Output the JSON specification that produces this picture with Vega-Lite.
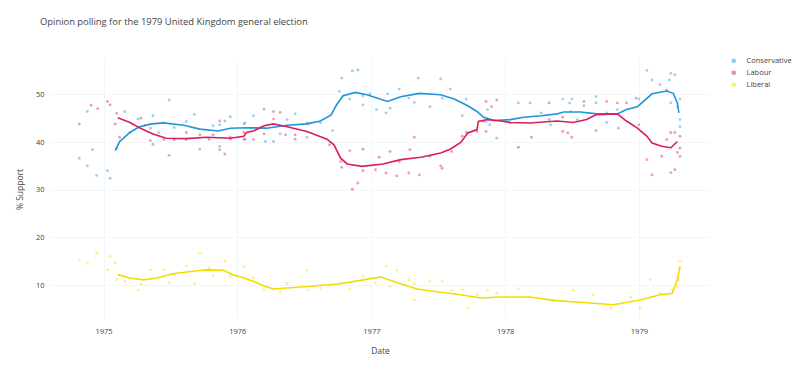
{
  "$schema": "https://vega.github.io/schema/vega-lite/v6.json",
  "width": 660,
  "height": 260,
  "autosize": {"type": "none"},
  "padding": {"left": 50, "top": 59, "right": 90, "bottom": 51},
  "background": "white",
  "title": {"text": "Opinion polling for the 1979 United Kingdom general election", "anchor": "start", "frame": "group", "dx": -10, "offset": 30, "font": "Open Sans", "fontSize": 9.4, "fontWeight": "normal", "color": "#444"},
  "config": {
    "view": {"stroke": null},
    "axis": {"labelFont": "Open Sans", "titleFont": "Open Sans", "labelColor": "#444", "titleColor": "#444", "labelFontSize": 7.5, "titleFontSize": 8.5, "titleFontWeight": "normal", "domain": false, "ticks": false, "gridColor": "#f3f5f8", "gridWidth": 1},
    "legend": {"labelFont": "Open Sans", "labelColor": "#444", "labelFontSize": 7.5}
  },
  "datasets": {
    "polls": [
      {"d": "1974-10-27", "p": "Conservative", "v": 36.6},
      {"d": "1974-11-18", "p": "Conservative", "v": 46.4},
      {"d": "1974-11-18", "p": "Conservative", "v": 35.0},
      {"d": "1974-12-02", "p": "Conservative", "v": 38.4},
      {"d": "1974-12-13", "p": "Conservative", "v": 33.0},
      {"d": "1975-01-12", "p": "Conservative", "v": 34.0},
      {"d": "1975-01-19", "p": "Conservative", "v": 32.4},
      {"d": "1975-02-06", "p": "Conservative", "v": 38.7},
      {"d": "1975-02-28", "p": "Conservative", "v": 46.4},
      {"d": "1975-03-14", "p": "Conservative", "v": 42.0},
      {"d": "1975-04-05", "p": "Conservative", "v": 44.8},
      {"d": "1975-05-09", "p": "Conservative", "v": 42.9},
      {"d": "1975-05-16", "p": "Conservative", "v": 45.5},
      {"d": "1975-05-31", "p": "Conservative", "v": 42.0},
      {"d": "1975-06-14", "p": "Conservative", "v": 44.0},
      {"d": "1975-06-29", "p": "Conservative", "v": 48.8},
      {"d": "1975-07-13", "p": "Conservative", "v": 43.0},
      {"d": "1975-08-15", "p": "Conservative", "v": 44.3},
      {"d": "1975-09-06", "p": "Conservative", "v": 45.8},
      {"d": "1975-09-21", "p": "Conservative", "v": 38.5},
      {"d": "1975-10-27", "p": "Conservative", "v": 43.4},
      {"d": "1975-11-14", "p": "Conservative", "v": 43.6},
      {"d": "1975-11-14", "p": "Conservative", "v": 39.1},
      {"d": "1975-11-28", "p": "Conservative", "v": 44.4},
      {"d": "1975-12-13", "p": "Conservative", "v": 45.3},
      {"d": "1975-12-13", "p": "Conservative", "v": 40.5},
      {"d": "1976-01-19", "p": "Conservative", "v": 43.8},
      {"d": "1976-01-19", "p": "Conservative", "v": 40.5},
      {"d": "1976-01-22", "p": "Conservative", "v": 44.0},
      {"d": "1976-02-14", "p": "Conservative", "v": 45.5},
      {"d": "1976-03-18", "p": "Conservative", "v": 40.1},
      {"d": "1976-04-09", "p": "Conservative", "v": 40.1},
      {"d": "1976-04-27", "p": "Conservative", "v": 41.7},
      {"d": "1976-05-16", "p": "Conservative", "v": 44.7},
      {"d": "1976-06-07", "p": "Conservative", "v": 45.9},
      {"d": "1976-07-09", "p": "Conservative", "v": 44.0},
      {"d": "1976-07-09", "p": "Conservative", "v": 41.0},
      {"d": "1976-08-15", "p": "Conservative", "v": 44.0},
      {"d": "1976-09-17", "p": "Conservative", "v": 42.4},
      {"d": "1976-10-05", "p": "Conservative", "v": 50.6},
      {"d": "1976-10-12", "p": "Conservative", "v": 53.4},
      {"d": "1976-11-03", "p": "Conservative", "v": 49.0},
      {"d": "1976-11-10", "p": "Conservative", "v": 54.9},
      {"d": "1976-11-25", "p": "Conservative", "v": 55.1},
      {"d": "1976-12-09", "p": "Conservative", "v": 49.7},
      {"d": "1976-12-09", "p": "Conservative", "v": 47.8},
      {"d": "1976-12-28", "p": "Conservative", "v": 50.1},
      {"d": "1977-01-15", "p": "Conservative", "v": 46.8},
      {"d": "1977-02-10", "p": "Conservative", "v": 46.1},
      {"d": "1977-02-14", "p": "Conservative", "v": 50.1},
      {"d": "1977-02-21", "p": "Conservative", "v": 47.1},
      {"d": "1977-03-18", "p": "Conservative", "v": 51.1},
      {"d": "1977-04-13", "p": "Conservative", "v": 49.2},
      {"d": "1977-04-28", "p": "Conservative", "v": 48.3},
      {"d": "1977-05-09", "p": "Conservative", "v": 53.4},
      {"d": "1977-06-10", "p": "Conservative", "v": 47.4},
      {"d": "1977-07-09", "p": "Conservative", "v": 53.2},
      {"d": "1977-07-13", "p": "Conservative", "v": 49.2},
      {"d": "1977-08-04", "p": "Conservative", "v": 51.1},
      {"d": "1977-09-06", "p": "Conservative", "v": 45.5},
      {"d": "1977-09-17", "p": "Conservative", "v": 49.0},
      {"d": "1977-11-10", "p": "Conservative", "v": 44.3},
      {"d": "1977-11-14", "p": "Conservative", "v": 46.8},
      {"d": "1977-11-20", "p": "Conservative", "v": 43.6},
      {"d": "1977-12-09", "p": "Conservative", "v": 40.8},
      {"d": "1978-02-06", "p": "Conservative", "v": 48.2},
      {"d": "1978-03-10", "p": "Conservative", "v": 48.2},
      {"d": "1978-04-09", "p": "Conservative", "v": 46.1},
      {"d": "1978-05-05", "p": "Conservative", "v": 43.6},
      {"d": "1978-06-07", "p": "Conservative", "v": 49.0},
      {"d": "1978-06-26", "p": "Conservative", "v": 48.2},
      {"d": "1978-06-29", "p": "Conservative", "v": 46.4},
      {"d": "1978-07-02", "p": "Conservative", "v": 49.0},
      {"d": "1978-07-17", "p": "Conservative", "v": 44.7},
      {"d": "1978-08-04", "p": "Conservative", "v": 47.6},
      {"d": "1978-09-06", "p": "Conservative", "v": 49.5},
      {"d": "1978-09-06", "p": "Conservative", "v": 48.2},
      {"d": "1978-10-05", "p": "Conservative", "v": 46.1},
      {"d": "1978-10-05", "p": "Conservative", "v": 44.1},
      {"d": "1978-11-03", "p": "Conservative", "v": 46.8},
      {"d": "1978-11-06", "p": "Conservative", "v": 42.9},
      {"d": "1979-01-01", "p": "Conservative", "v": 49.0},
      {"d": "1979-01-23", "p": "Conservative", "v": 55.0},
      {"d": "1979-02-06", "p": "Conservative", "v": 53.0},
      {"d": "1979-02-28", "p": "Conservative", "v": 52.0},
      {"d": "1979-03-18", "p": "Conservative", "v": 50.9},
      {"d": "1979-03-25", "p": "Conservative", "v": 53.0},
      {"d": "1979-03-29", "p": "Conservative", "v": 54.4},
      {"d": "1979-03-29", "p": "Conservative", "v": 48.2},
      {"d": "1979-04-09", "p": "Conservative", "v": 54.1},
      {"d": "1979-04-16", "p": "Conservative", "v": 47.4},
      {"d": "1979-04-23", "p": "Conservative", "v": 44.7},
      {"d": "1979-04-23", "p": "Conservative", "v": 43.2},
      {"d": "1979-04-23", "p": "Conservative", "v": 49.0},
      {"d": "1974-10-27", "p": "Labour", "v": 43.8},
      {"d": "1974-11-28", "p": "Labour", "v": 47.7},
      {"d": "1974-12-16", "p": "Labour", "v": 47.0},
      {"d": "1975-01-12", "p": "Labour", "v": 48.5},
      {"d": "1975-01-19", "p": "Labour", "v": 47.8},
      {"d": "1975-02-02", "p": "Labour", "v": 43.8},
      {"d": "1975-02-06", "p": "Labour", "v": 46.0},
      {"d": "1975-02-14", "p": "Labour", "v": 41.0},
      {"d": "1975-04-13", "p": "Labour", "v": 45.0},
      {"d": "1975-04-24", "p": "Labour", "v": 43.5},
      {"d": "1975-05-09", "p": "Labour", "v": 40.3},
      {"d": "1975-05-16", "p": "Labour", "v": 39.5},
      {"d": "1975-06-14", "p": "Labour", "v": 40.5},
      {"d": "1975-06-29", "p": "Labour", "v": 37.2},
      {"d": "1975-07-13", "p": "Labour", "v": 40.5},
      {"d": "1975-08-15", "p": "Labour", "v": 42.0},
      {"d": "1975-08-15", "p": "Labour", "v": 40.5},
      {"d": "1975-09-21", "p": "Labour", "v": 41.5},
      {"d": "1975-10-16", "p": "Labour", "v": 40.5},
      {"d": "1975-10-27", "p": "Labour", "v": 41.5},
      {"d": "1975-11-14", "p": "Labour", "v": 44.4},
      {"d": "1975-11-14", "p": "Labour", "v": 38.4},
      {"d": "1975-11-28", "p": "Labour", "v": 37.5},
      {"d": "1975-12-13", "p": "Labour", "v": 41.0},
      {"d": "1976-01-19", "p": "Labour", "v": 42.0},
      {"d": "1976-01-22", "p": "Labour", "v": 40.6},
      {"d": "1976-02-14", "p": "Labour", "v": 40.5},
      {"d": "1976-03-14", "p": "Labour", "v": 41.7},
      {"d": "1976-03-14", "p": "Labour", "v": 46.9},
      {"d": "1976-04-09", "p": "Labour", "v": 46.4},
      {"d": "1976-04-09", "p": "Labour", "v": 44.8},
      {"d": "1976-04-27", "p": "Labour", "v": 46.2},
      {"d": "1976-05-12", "p": "Labour", "v": 41.5},
      {"d": "1976-06-07", "p": "Labour", "v": 41.5},
      {"d": "1976-06-07", "p": "Labour", "v": 40.6},
      {"d": "1976-07-13", "p": "Labour", "v": 43.8},
      {"d": "1976-09-09", "p": "Labour", "v": 39.4},
      {"d": "1976-10-09", "p": "Labour", "v": 35.9},
      {"d": "1976-10-12", "p": "Labour", "v": 34.7},
      {"d": "1976-11-03", "p": "Labour", "v": 38.2},
      {"d": "1976-11-10", "p": "Labour", "v": 30.1},
      {"d": "1976-11-25", "p": "Labour", "v": 31.4},
      {"d": "1976-12-09", "p": "Labour", "v": 38.5},
      {"d": "1976-12-09", "p": "Labour", "v": 34.0},
      {"d": "1977-01-12", "p": "Labour", "v": 34.2},
      {"d": "1977-01-22", "p": "Labour", "v": 36.8},
      {"d": "1977-02-10", "p": "Labour", "v": 33.5},
      {"d": "1977-02-21", "p": "Labour", "v": 38.0},
      {"d": "1977-03-11", "p": "Labour", "v": 32.9},
      {"d": "1977-03-18", "p": "Labour", "v": 35.9},
      {"d": "1977-04-13", "p": "Labour", "v": 33.5},
      {"d": "1977-04-16", "p": "Labour", "v": 38.4},
      {"d": "1977-04-28", "p": "Labour", "v": 41.0},
      {"d": "1977-05-12", "p": "Labour", "v": 33.1},
      {"d": "1977-06-10", "p": "Labour", "v": 37.0},
      {"d": "1977-07-09", "p": "Labour", "v": 35.0},
      {"d": "1977-07-13", "p": "Labour", "v": 34.5},
      {"d": "1977-08-08", "p": "Labour", "v": 38.0},
      {"d": "1977-09-06", "p": "Labour", "v": 41.2},
      {"d": "1977-09-17", "p": "Labour", "v": 42.0},
      {"d": "1977-10-16", "p": "Labour", "v": 42.2},
      {"d": "1977-11-03", "p": "Labour", "v": 44.3},
      {"d": "1977-11-10", "p": "Labour", "v": 48.5},
      {"d": "1977-11-10", "p": "Labour", "v": 42.2},
      {"d": "1977-11-25", "p": "Labour", "v": 47.4},
      {"d": "1977-12-09", "p": "Labour", "v": 48.8},
      {"d": "1978-01-15", "p": "Labour", "v": 44.0},
      {"d": "1978-02-06", "p": "Labour", "v": 38.9},
      {"d": "1978-03-14", "p": "Labour", "v": 41.0},
      {"d": "1978-05-01", "p": "Labour", "v": 48.2},
      {"d": "1978-05-01", "p": "Labour", "v": 44.7},
      {"d": "1978-06-07", "p": "Labour", "v": 42.2},
      {"d": "1978-06-07", "p": "Labour", "v": 45.2},
      {"d": "1978-06-21", "p": "Labour", "v": 41.9},
      {"d": "1978-07-02", "p": "Labour", "v": 41.0},
      {"d": "1978-08-04", "p": "Labour", "v": 48.5},
      {"d": "1978-09-06", "p": "Labour", "v": 42.4},
      {"d": "1978-10-05", "p": "Labour", "v": 48.5},
      {"d": "1978-11-03", "p": "Labour", "v": 48.2},
      {"d": "1978-11-28", "p": "Labour", "v": 48.2},
      {"d": "1978-12-24", "p": "Labour", "v": 49.2},
      {"d": "1979-01-01", "p": "Labour", "v": 43.6},
      {"d": "1979-01-23", "p": "Labour", "v": 36.3},
      {"d": "1979-02-06", "p": "Labour", "v": 33.1},
      {"d": "1979-03-04", "p": "Labour", "v": 37.0},
      {"d": "1979-03-18", "p": "Labour", "v": 40.5},
      {"d": "1979-03-29", "p": "Labour", "v": 42.0},
      {"d": "1979-03-29", "p": "Labour", "v": 33.6},
      {"d": "1979-04-09", "p": "Labour", "v": 42.0},
      {"d": "1979-04-09", "p": "Labour", "v": 34.2},
      {"d": "1979-04-16", "p": "Labour", "v": 37.8},
      {"d": "1979-04-23", "p": "Labour", "v": 38.7},
      {"d": "1979-04-23", "p": "Labour", "v": 37.0},
      {"d": "1979-04-23", "p": "Labour", "v": 41.2},
      {"d": "1974-10-27", "p": "Liberal", "v": 15.3},
      {"d": "1974-11-18", "p": "Liberal", "v": 14.6},
      {"d": "1974-12-13", "p": "Liberal", "v": 16.7},
      {"d": "1975-01-12", "p": "Liberal", "v": 13.2},
      {"d": "1975-01-19", "p": "Liberal", "v": 16.0},
      {"d": "1975-02-02", "p": "Liberal", "v": 14.7},
      {"d": "1975-02-06", "p": "Liberal", "v": 11.1},
      {"d": "1975-02-28", "p": "Liberal", "v": 10.8},
      {"d": "1975-04-05", "p": "Liberal", "v": 9.0},
      {"d": "1975-04-13", "p": "Liberal", "v": 10.2},
      {"d": "1975-05-09", "p": "Liberal", "v": 13.2},
      {"d": "1975-06-14", "p": "Liberal", "v": 13.2},
      {"d": "1975-06-29", "p": "Liberal", "v": 10.5},
      {"d": "1975-07-13", "p": "Liberal", "v": 12.2},
      {"d": "1975-08-15", "p": "Liberal", "v": 14.0},
      {"d": "1975-09-06", "p": "Liberal", "v": 10.3},
      {"d": "1975-09-21", "p": "Liberal", "v": 16.7},
      {"d": "1975-10-16", "p": "Liberal", "v": 13.6},
      {"d": "1975-10-27", "p": "Liberal", "v": 12.0},
      {"d": "1975-11-28", "p": "Liberal", "v": 15.0},
      {"d": "1975-12-13", "p": "Liberal", "v": 11.9},
      {"d": "1976-01-19", "p": "Liberal", "v": 13.9},
      {"d": "1976-02-14", "p": "Liberal", "v": 11.5},
      {"d": "1976-03-14", "p": "Liberal", "v": 9.0},
      {"d": "1976-04-09", "p": "Liberal", "v": 9.2},
      {"d": "1976-04-27", "p": "Liberal", "v": 8.7},
      {"d": "1976-05-16", "p": "Liberal", "v": 10.4},
      {"d": "1976-07-09", "p": "Liberal", "v": 13.1},
      {"d": "1976-07-13", "p": "Liberal", "v": 9.0},
      {"d": "1976-08-15", "p": "Liberal", "v": 9.4},
      {"d": "1976-09-09", "p": "Liberal", "v": 9.9},
      {"d": "1976-10-09", "p": "Liberal", "v": 10.5},
      {"d": "1976-11-03", "p": "Liberal", "v": 9.2},
      {"d": "1976-12-09", "p": "Liberal", "v": 11.8},
      {"d": "1977-01-12", "p": "Liberal", "v": 10.5},
      {"d": "1977-02-10", "p": "Liberal", "v": 14.0},
      {"d": "1977-02-21", "p": "Liberal", "v": 9.7},
      {"d": "1977-03-11", "p": "Liberal", "v": 13.1},
      {"d": "1977-04-13", "p": "Liberal", "v": 11.1},
      {"d": "1977-04-28", "p": "Liberal", "v": 10.3},
      {"d": "1977-04-28", "p": "Liberal", "v": 6.9},
      {"d": "1977-06-10", "p": "Liberal", "v": 10.8},
      {"d": "1977-07-13", "p": "Liberal", "v": 10.8},
      {"d": "1977-08-08", "p": "Liberal", "v": 8.9},
      {"d": "1977-09-06", "p": "Liberal", "v": 9.0},
      {"d": "1977-09-21", "p": "Liberal", "v": 5.2},
      {"d": "1977-10-16", "p": "Liberal", "v": 8.0},
      {"d": "1977-11-14", "p": "Liberal", "v": 8.9},
      {"d": "1977-12-09", "p": "Liberal", "v": 8.3},
      {"d": "1978-02-06", "p": "Liberal", "v": 9.2},
      {"d": "1978-03-10", "p": "Liberal", "v": 7.5},
      {"d": "1978-05-12", "p": "Liberal", "v": 6.8},
      {"d": "1978-07-06", "p": "Liberal", "v": 8.9},
      {"d": "1978-08-29", "p": "Liberal", "v": 8.0},
      {"d": "1978-10-16", "p": "Liberal", "v": 5.2},
      {"d": "1978-12-09", "p": "Liberal", "v": 7.5},
      {"d": "1979-01-04", "p": "Liberal", "v": 5.2},
      {"d": "1979-02-02", "p": "Liberal", "v": 11.1},
      {"d": "1979-02-28", "p": "Liberal", "v": 8.3},
      {"d": "1979-04-02", "p": "Liberal", "v": 9.0},
      {"d": "1979-04-16", "p": "Liberal", "v": 9.7},
      {"d": "1979-04-20", "p": "Liberal", "v": 11.1},
      {"d": "1979-04-23", "p": "Liberal", "v": 13.6},
      {"d": "1979-04-23", "p": "Liberal", "v": 15.0}
    ],
    "trend": [
      {"d": "1975-02-02", "p": "Conservative", "v": 38.2},
      {"d": "1975-02-14", "p": "Conservative", "v": 40.1},
      {"d": "1975-03-14", "p": "Conservative", "v": 42.0},
      {"d": "1975-04-09", "p": "Conservative", "v": 43.2},
      {"d": "1975-05-12", "p": "Conservative", "v": 43.8},
      {"d": "1975-06-14", "p": "Conservative", "v": 44.0},
      {"d": "1975-08-08", "p": "Conservative", "v": 43.5},
      {"d": "1975-09-21", "p": "Conservative", "v": 42.7},
      {"d": "1975-11-10", "p": "Conservative", "v": 42.3},
      {"d": "1975-12-13", "p": "Conservative", "v": 42.9},
      {"d": "1976-01-26", "p": "Conservative", "v": 43.0},
      {"d": "1976-03-21", "p": "Conservative", "v": 42.9},
      {"d": "1976-05-16", "p": "Conservative", "v": 43.5},
      {"d": "1976-07-09", "p": "Conservative", "v": 43.8},
      {"d": "1976-08-15", "p": "Conservative", "v": 44.4},
      {"d": "1976-09-13", "p": "Conservative", "v": 45.7},
      {"d": "1976-09-28", "p": "Conservative", "v": 47.8},
      {"d": "1976-10-16", "p": "Conservative", "v": 49.7},
      {"d": "1976-11-18", "p": "Conservative", "v": 50.4},
      {"d": "1976-12-20", "p": "Conservative", "v": 49.9},
      {"d": "1977-02-14", "p": "Conservative", "v": 48.5},
      {"d": "1977-03-22", "p": "Conservative", "v": 49.5},
      {"d": "1977-05-12", "p": "Conservative", "v": 50.2},
      {"d": "1977-07-09", "p": "Conservative", "v": 49.9},
      {"d": "1977-08-15", "p": "Conservative", "v": 49.0},
      {"d": "1977-09-21", "p": "Conservative", "v": 47.6},
      {"d": "1977-10-16", "p": "Conservative", "v": 46.4},
      {"d": "1977-11-03", "p": "Conservative", "v": 45.2},
      {"d": "1977-12-02", "p": "Conservative", "v": 44.5},
      {"d": "1978-01-15", "p": "Conservative", "v": 44.7},
      {"d": "1978-02-21", "p": "Conservative", "v": 45.2},
      {"d": "1978-04-09", "p": "Conservative", "v": 45.5},
      {"d": "1978-05-23", "p": "Conservative", "v": 45.9},
      {"d": "1978-06-10", "p": "Conservative", "v": 46.3},
      {"d": "1978-07-24", "p": "Conservative", "v": 46.3},
      {"d": "1978-09-09", "p": "Conservative", "v": 45.9},
      {"d": "1978-11-03", "p": "Conservative", "v": 45.9},
      {"d": "1978-11-28", "p": "Conservative", "v": 46.8},
      {"d": "1978-12-28", "p": "Conservative", "v": 47.4},
      {"d": "1979-02-06", "p": "Conservative", "v": 50.1},
      {"d": "1979-03-18", "p": "Conservative", "v": 50.7},
      {"d": "1979-04-05", "p": "Conservative", "v": 50.2},
      {"d": "1979-04-16", "p": "Conservative", "v": 48.2},
      {"d": "1979-04-20", "p": "Conservative", "v": 46.1},
      {"d": "1975-02-09", "p": "Labour", "v": 45.1},
      {"d": "1975-03-14", "p": "Labour", "v": 44.1},
      {"d": "1975-04-09", "p": "Labour", "v": 43.0},
      {"d": "1975-05-16", "p": "Labour", "v": 41.7},
      {"d": "1975-06-21", "p": "Labour", "v": 40.8},
      {"d": "1975-08-15", "p": "Labour", "v": 40.7},
      {"d": "1975-10-09", "p": "Labour", "v": 41.0},
      {"d": "1975-12-13", "p": "Labour", "v": 40.8},
      {"d": "1976-01-19", "p": "Labour", "v": 41.2},
      {"d": "1976-01-26", "p": "Labour", "v": 42.0},
      {"d": "1976-02-14", "p": "Labour", "v": 42.3},
      {"d": "1976-03-14", "p": "Labour", "v": 43.4},
      {"d": "1976-04-09", "p": "Labour", "v": 43.8},
      {"d": "1976-05-16", "p": "Labour", "v": 43.2},
      {"d": "1976-07-09", "p": "Labour", "v": 42.2},
      {"d": "1976-09-02", "p": "Labour", "v": 40.6},
      {"d": "1976-09-21", "p": "Labour", "v": 39.4},
      {"d": "1976-10-09", "p": "Labour", "v": 36.6},
      {"d": "1976-10-27", "p": "Labour", "v": 35.4},
      {"d": "1976-12-06", "p": "Labour", "v": 34.9},
      {"d": "1977-02-02", "p": "Labour", "v": 35.4},
      {"d": "1977-03-22", "p": "Labour", "v": 36.3},
      {"d": "1977-05-16", "p": "Labour", "v": 36.8},
      {"d": "1977-07-09", "p": "Labour", "v": 37.7},
      {"d": "1977-08-04", "p": "Labour", "v": 38.5},
      {"d": "1977-09-02", "p": "Labour", "v": 39.9},
      {"d": "1977-09-21", "p": "Labour", "v": 41.9},
      {"d": "1977-10-16", "p": "Labour", "v": 42.6},
      {"d": "1977-10-20", "p": "Labour", "v": 44.3},
      {"d": "1977-11-14", "p": "Labour", "v": 44.7},
      {"d": "1977-12-20", "p": "Labour", "v": 44.4},
      {"d": "1978-01-15", "p": "Labour", "v": 44.1},
      {"d": "1978-03-10", "p": "Labour", "v": 44.0},
      {"d": "1978-05-23", "p": "Labour", "v": 44.4},
      {"d": "1978-07-06", "p": "Labour", "v": 44.1},
      {"d": "1978-08-11", "p": "Labour", "v": 44.7},
      {"d": "1978-09-06", "p": "Labour", "v": 45.7},
      {"d": "1978-11-03", "p": "Labour", "v": 45.9},
      {"d": "1978-11-28", "p": "Labour", "v": 44.4},
      {"d": "1978-12-28", "p": "Labour", "v": 42.9},
      {"d": "1979-01-23", "p": "Labour", "v": 41.2},
      {"d": "1979-02-06", "p": "Labour", "v": 39.8},
      {"d": "1979-03-04", "p": "Labour", "v": 39.1},
      {"d": "1979-03-29", "p": "Labour", "v": 38.8},
      {"d": "1979-04-16", "p": "Labour", "v": 40.1},
      {"d": "1975-02-09", "p": "Liberal", "v": 12.2},
      {"d": "1975-03-14", "p": "Liberal", "v": 11.5},
      {"d": "1975-04-20", "p": "Liberal", "v": 11.1},
      {"d": "1975-05-27", "p": "Liberal", "v": 11.5},
      {"d": "1975-07-09", "p": "Liberal", "v": 12.4},
      {"d": "1975-09-02", "p": "Liberal", "v": 12.9},
      {"d": "1975-10-09", "p": "Liberal", "v": 13.2},
      {"d": "1975-11-25", "p": "Liberal", "v": 13.1},
      {"d": "1975-12-20", "p": "Liberal", "v": 12.2},
      {"d": "1976-01-19", "p": "Liberal", "v": 11.5},
      {"d": "1976-02-14", "p": "Liberal", "v": 10.8},
      {"d": "1976-03-14", "p": "Liberal", "v": 9.8},
      {"d": "1976-04-09", "p": "Liberal", "v": 9.2},
      {"d": "1976-07-09", "p": "Liberal", "v": 9.7},
      {"d": "1976-10-09", "p": "Liberal", "v": 10.3},
      {"d": "1976-12-09", "p": "Liberal", "v": 11.1},
      {"d": "1977-01-26", "p": "Liberal", "v": 11.7},
      {"d": "1977-03-22", "p": "Liberal", "v": 10.3},
      {"d": "1977-05-05", "p": "Liberal", "v": 9.2},
      {"d": "1977-07-09", "p": "Liberal", "v": 8.5},
      {"d": "1977-09-02", "p": "Liberal", "v": 8.0},
      {"d": "1977-10-27", "p": "Liberal", "v": 7.3},
      {"d": "1977-12-20", "p": "Liberal", "v": 7.5},
      {"d": "1978-03-10", "p": "Liberal", "v": 7.5},
      {"d": "1978-05-12", "p": "Liberal", "v": 6.8},
      {"d": "1978-07-24", "p": "Liberal", "v": 6.4},
      {"d": "1978-10-23", "p": "Liberal", "v": 5.9},
      {"d": "1979-01-04", "p": "Liberal", "v": 6.9},
      {"d": "1979-02-28", "p": "Liberal", "v": 8.0},
      {"d": "1979-04-02", "p": "Liberal", "v": 8.3},
      {"d": "1979-04-16", "p": "Liberal", "v": 11.1},
      {"d": "1979-04-23", "p": "Liberal", "v": 13.9}
    ]
  },
  "encoding": {
    "x": {"field": "d", "type": "temporal", "title": "Date",
      "scale": {"domain": [{"year": 1974, "month": 8, "date": 8}, {"year": 1979, "month": 7, "date": 14}]},
      "axis": {"format": "%Y", "tickCount": {"interval": "year", "step": 1}, "labelPadding": 8, "titlePadding": 12, "grid": true}},
    "y": {"field": "v", "type": "quantitative", "title": "% Support",
      "scale": {"domain": [2.9, 57.4], "nice": false, "zero": false},
      "axis": {"values": [10, 20, 30, 40, 50], "labelPadding": 6, "titlePadding": 11, "grid": true}},
    "color": {"field": "p", "type": "nominal",
      "scale": {"domain": ["Conservative", "Labour", "Liberal"], "range": ["#1f96da", "#d81f5a", "#f5dc00"]}}
  },
  "layer": [
    {
      "data": {"name": "polls"},
      "mark": {"type": "point", "filled": true, "shape": "circle", "size": 8, "opacity": 0.45},
      "encoding": {
        "color": {"field": "p", "type": "nominal",
          "scale": {"domain": ["Conservative", "Labour", "Liberal"], "range": ["#1f96da", "#d81f5a", "#f5dc00"]},
          "legend": {"title": null, "orient": "none", "legendX": 680, "legendY": -2, "symbolSize": 10, "symbolOpacity": 0.5, "rowPadding": 2, "labelOffset": 9}}
      }
    },
    {
      "data": {"name": "trend"},
      "mark": {"type": "line", "strokeWidth": 1.6},
      "encoding": {
        "color": {"field": "p", "type": "nominal",
          "scale": {"domain": ["Conservative", "Labour", "Liberal"], "range": ["#1f96da", "#d81f5a", "#f5dc00"]},
          "legend": null}
      }
    }
  ]
}
